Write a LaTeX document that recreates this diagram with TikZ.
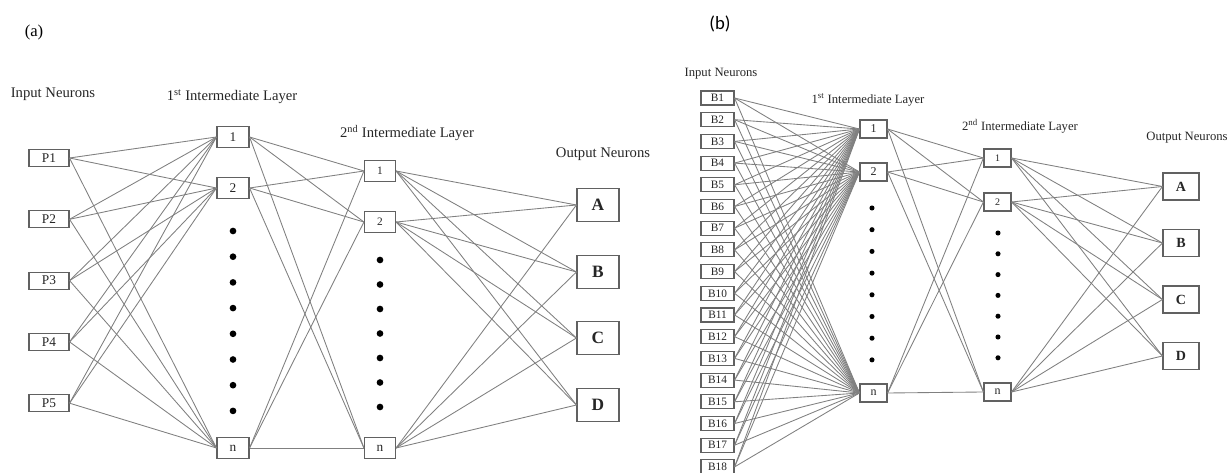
\documentclass[tikz,border=0pt]{standalone}
\usepackage{fontspec}
\setmainfont{Liberation Serif}
\newfontfamily\labfont{Carlito}
\begin{document}
\begin{tikzpicture}[x=0.75pt,y=-0.75pt,
  conn/.style={draw=black!50, line width=0.65pt},
  box/.style={draw=black!62, line width=0.85pt, fill=white, inner sep=0pt, text=black!85},
  hda/.style={inner sep=0pt, text=black!85, font=\fontsize{11}{13}\selectfont},
  hdb/.style={inner sep=0pt, text=black!85, font=\fontsize{9.5}{11}\selectfont},
  pa/.style={box, minimum width=30pt, minimum height=12.75pt, font=\fontsize{10}{12}\selectfont},
  l1a/.style={box, minimum width=24pt, minimum height=15.75pt, font=\fontsize{10}{12}\selectfont},
  l2a/.style={box, minimum width=23.25pt, minimum height=15.75pt, font=\fontsize{8.5}{10}\selectfont},
  oa/.style={box, minimum width=31.5pt, minimum height=24.75pt, font=\fontsize{13}{15}\selectfont\bfseries},
  pb/.style={box, minimum width=24.75pt, minimum height=10.5pt, font=\fontsize{8.5}{10}\selectfont},
  l1b/.style={box, minimum width=20.25pt, minimum height=13.5pt, font=\fontsize{9}{10}\selectfont},
  l2b/.style={box, minimum width=20.25pt, minimum height=13.5pt, font=\fontsize{7.5}{9}\selectfont},
  ob/.style={box, minimum width=27pt, minimum height=20.25pt, font=\fontsize{10.5}{12}\selectfont\bfseries},
  dota/.style={circle, fill=black, inner sep=0pt, minimum size=5pt},
  dotb/.style={circle, fill=black, inner sep=0pt, minimum size=3.8pt}
]
\useasboundingbox (0,0) rectangle (1229,473);

% ---------------- panel (a) ----------------
\node[inner sep=0pt, font=\fontsize{12.5}{14}\selectfont] (tagA) at (34,32) {(a)};
\node[hda] (hA1) at (53,94) {Input Neurons};
\node[hda] (hA2) at (232,97) {1\textsuperscript{st} Intermediate Layer};
\node[hda] (hA3) at (407,133) {2\textsuperscript{nd} Intermediate Layer};
\node[hda] (hA4) at (603,154) {Output Neurons};

\foreach \k in {1,...,5} \node[pa] (P\k) at (49,{158+61.3*(\k-1)}) {P\k};

\node[l1a] (a1) at (233,137) {1};
\node[l1a] (a2) at (233,188) {2};
\node[l1a] (an) at (233,448) {n};
\foreach \i in {0,...,7} \node[dota] (ad\i) at (233,{231+25.7*\i}) {};

\node[l2a] (b1) at (380,171) {1};
\node[l2a] (b2) at (380,222) {2};
\node[l2a, font=\fontsize{10}{12}\selectfont] (bn) at (380,448) {n};
\foreach \i in {0,...,6} \node[dota] (bd\i) at (380,{260+24.5*\i}) {};

\node[oa] (oA) at (598,205) {A};
\node[oa] (oB) at (598,272) {B};
\node[oa] (oC) at (598,338) {C};
\node[oa] (oD) at (598,405) {D};

\foreach \k in {1,...,5} \foreach \t in {a1,a2,an} \draw[conn] (P\k.east) -- (\t.west);
\foreach \s in {a1,a2,an} \foreach \t in {b1,b2,bn} \draw[conn] (\s.east) -- (\t.west);
\foreach \s in {b1,b2,bn} \foreach \t in {A,B,C,D} \draw[conn] (\s.east) -- (o\t.west);

% ---------------- panel (b) ----------------
\node[inner sep=0pt, font=\labfont\fontsize{14}{16}\selectfont] (tagB) at (720,24) {(b)};
\node[hdb] (hB1) at (721,74) {Input Neurons};
\node[hdb] (hB2) at (868,100) {1\textsuperscript{st} Intermediate Layer};
\node[hdb] (hB3) at (1020,126) {2\textsuperscript{nd} Intermediate Layer};
\node[hdb] (hB4) at (1187,138) {Output Neurons};

\foreach \k in {1,...,18} \node[pb] (Q\k) at (717.5,{98+21.7*(\k-1)}) {B\k};

\node[l1b] (c1) at (873.5,129) {1};
\node[l1b] (c2) at (873.5,172) {2};
\node[l1b] (cn) at (873.5,393) {n};
\foreach \i in {0,...,7} \node[dotb] (cd\i) at (872,{208+21.7*\i}) {};

\node[l2b] (d1) at (997.5,158) {1};
\node[l2b] (d2) at (997.5,202) {2};
\node[l2b, font=\fontsize{9}{10}\selectfont] (dn) at (997.5,392) {n};
\foreach \i in {0,...,6} \node[dotb] (dd\i) at (998,{233+20.8*\i}) {};

\node[ob] (pA) at (1181,186.5) {A};
\node[ob] (pB) at (1181,243) {B};
\node[ob] (pC) at (1181,299.5) {C};
\node[ob] (pD) at (1181,356) {D};

\foreach \k in {1,...,18} \foreach \t in {c1,c2,cn} \draw[conn] (Q\k.east) -- (\t.west);
\foreach \s in {c1,c2,cn} \foreach \t in {d1,d2,dn} \draw[conn] (\s.east) -- (\t.west);
\foreach \s in {d1,d2,dn} \foreach \t in {A,B,C,D} \draw[conn] (\s.east) -- (p\t.west);
\end{tikzpicture}
\end{document}
